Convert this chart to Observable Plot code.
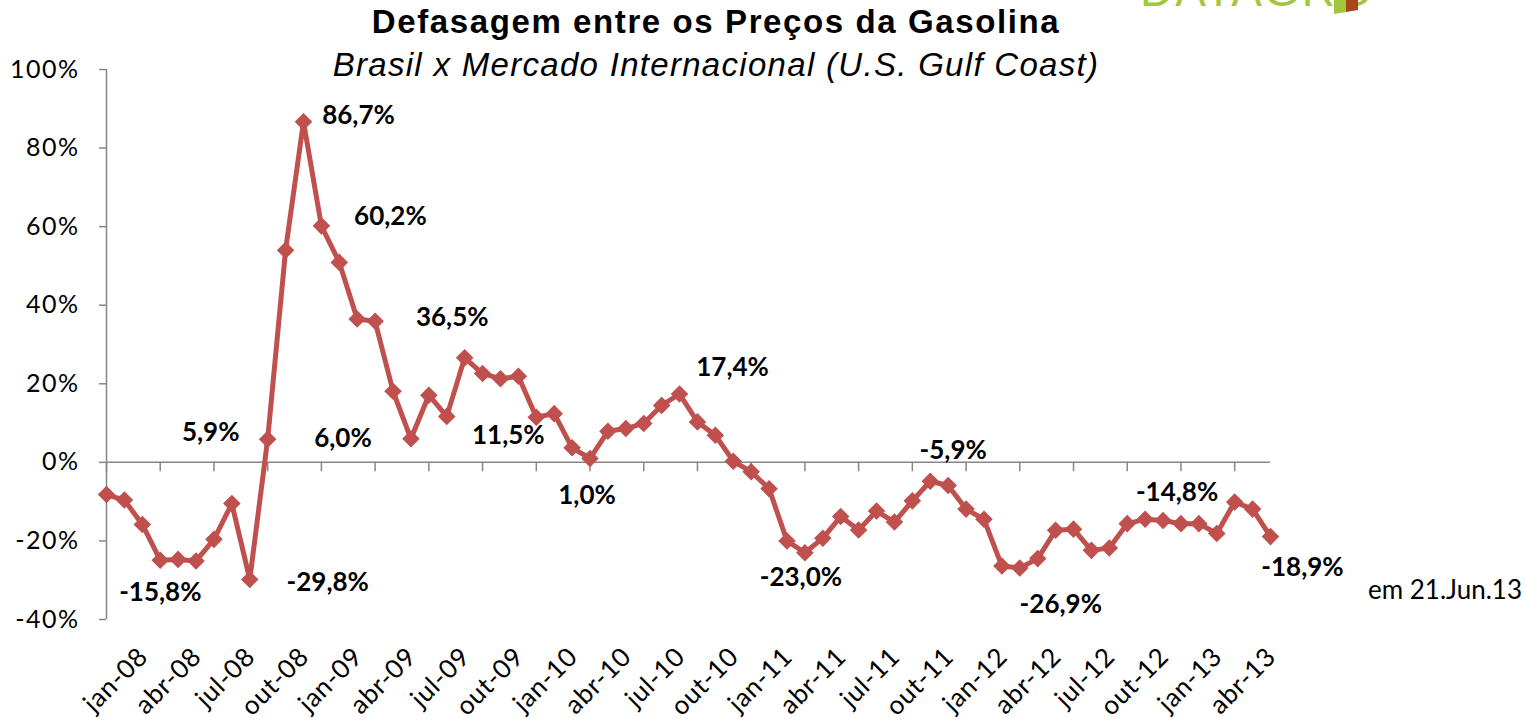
<!DOCTYPE html>
<html>
<head>
<meta charset="utf-8">
<script src="https://cdn.jsdelivr.net/npm/d3@7"></script>
<script src="https://cdn.jsdelivr.net/npm/@observablehq/plot@0.6"></script>
<style>
  body { margin: 0; background: #fff; }
  #wrap { position: relative; width: 1526px; height: 725px; overflow: hidden; background: #fff; }
  #chart { position: absolute; left: 0; top: 0; }
  .ttl { position: absolute; left: 0; width: 1432px; text-align: center; white-space: nowrap; color: #000;
         font-family: "Liberation Sans", Arial, sans-serif; line-height: 1; }
  #title { top: 5px; font-size: 33px; font-weight: bold; letter-spacing: 1.6px; }
  #subtitle { top: 48px; font-size: 33px; font-style: italic; letter-spacing: 1.3px; }
  #note { position: absolute; left: 1368px; top: 576px; font-family: Lato, sans-serif; font-size: 26px; line-height: 1; color: #000; white-space: nowrap; }
  #logo { position: absolute; left: 1140px; top: -33px; font-family: "Liberation Sans", sans-serif; font-size: 46px; line-height: 1;
          color: #a3c63d; letter-spacing: 2px; white-space: nowrap; }
  #cube { position: absolute; left: 1334px; top: -12px; width: 24px; height: 24px;
          background: linear-gradient(90deg, #a3c63d 0 50%, #a8461c 50% 100%); transform: skewY(-10deg); }
  #chart g[aria-label="y-axis tick label"] text { letter-spacing: 1.5px; }
  #chart g[aria-label="x-axis tick label"] text { letter-spacing: 0.8px; }
</style>
</head>
<body>
<div id="wrap">
  <div id="chart"></div>
  <div id="title" class="ttl">Defasagem entre os Preços da Gasolina</div>
  <div id="subtitle" class="ttl">Brasil x Mercado Internacional (U.S. Gulf Coast)</div>
  <div id="note">em 21.Jun.13</div>
  <div id="logo">DATAGRO</div>
  <div id="cube"></div>
</div>
<script>
// ---- data ----
const months = [
  "jan-08","fev-08","mar-08","abr-08","mai-08","jun-08","jul-08","ago-08","set-08","out-08","nov-08","dez-08",
  "jan-09","fev-09","mar-09","abr-09","mai-09","jun-09","jul-09","ago-09","set-09","out-09","nov-09","dez-09",
  "jan-10","fev-10","mar-10","abr-10","mai-10","jun-10","jul-10","ago-10","set-10","out-10","nov-10","dez-10",
  "jan-11","fev-11","mar-11","abr-11","mai-11","jun-11","jul-11","ago-11","set-11","out-11","nov-11","dez-11",
  "jan-12","fev-12","mar-12","abr-12","mai-12","jun-12","jul-12","ago-12","set-12","out-12","nov-12","dez-12",
  "jan-13","fev-13","mar-13","abr-13","mai-13","jun-13"
];
const defasagem = [
  -8.2, -9.6, -15.8, -24.9, -24.7, -25.1, -19.6, -10.5, -29.8, 5.9,
  54.0, 86.7, 60.2, 50.9, 36.5, 35.9, 18.1, 6.0, 17.1, 11.7,
  26.6, 22.6, 21.3, 21.9, 11.5, 12.4, 3.7, 1.0, 7.9, 8.6,
  9.9, 14.5, 17.4, 10.3, 6.9, 0.3, -2.4, -6.7, -20.0, -23.0,
  -19.3, -13.8, -17.2, -12.4, -15.2, -9.8, -4.8, -5.9, -11.9, -14.5,
  -26.4, -26.9, -24.5, -17.3, -17.0, -22.4, -21.8, -15.6, -14.5, -14.8,
  -15.6, -15.6, -18.1, -10.1, -11.9, -18.9
];
const tickLabels = [
  "jan-08","abr-08","jul-08","out-08","jan-09","abr-09","jul-09","out-09","jan-10","abr-10","jul-10",
  "out-10","jan-11","abr-11","jul-11","out-11","jan-12","abr-12","jul-12","out-12","jan-13","abr-13"
];
const yTicks = [-40, -20, 0, 20, 40, 60, 80, 100];
const labeledMonths = ["mar-08","set-08","out-08","dez-08","jan-09","mar-09","jun-09","jan-10","abr-10","set-10",
  "abr-11","dez-11","abr-12","dez-12","jun-13"];

// ---- styling / placement (not data) ----
const labelOffsets = [
  [18, 68], [78, 3], [-57, -7], [55, -6], [69, -9], [95, -1], [-68, 0], [-28, 18], [-3, 37], [53, -26],
  [-4, 25], [5, -35], [41, 37], [14, -28], [32, 31]
];
const RED = "#C0504D", GRAY = "#868686";
const FONT = "Lato, 'Open Sans', sans-serif";

const data = months.map((m, i) => ({month: m, value: defasagem[i]}));
const fmt = v => v.toFixed(1).replace(".", ",") + "%";

const diamond = {
  draw(context, size) {
    const h = Math.sqrt(size / 2);
    context.moveTo(0, -h); context.lineTo(h, 0); context.lineTo(0, h); context.lineTo(-h, 0); context.closePath();
  }
};

const labelMarks = labeledMonths.map((m, k) =>
  Plot.text(data.filter(d => d.month === m), {
    x: "month", y: "value", text: d => fmt(d.value),
    dx: labelOffsets[k][0], dy: labelOffsets[k][1],
    fontSize: 26, fontWeight: "bold", fontFamily: FONT, fill: "#000"
  })
);

const chart = Plot.plot({
  width: 1526, height: 725,
  marginLeft: 106, marginRight: 256, marginTop: 69, marginBottom: 106,
  style: {background: "#fff", fontFamily: FONT},
  x: {type: "point", domain: months, padding: 0},
  y: {domain: [-40, 100]},
  marks: [
    Plot.axisY({ticks: yTicks, tickFormat: d => d + "%", tickSize: 7, tickPadding: 20, fontSize: 25,
      stroke: GRAY, strokeWidth: 1.5, fill: "#000", fontFamily: FONT, label: null}),
    Plot.axisX({ticks: tickLabels, tickSize: 0, tickRotate: -45, fontSize: 26, fill: "#000",
      fontFamily: FONT, label: null, dx: 37, dy: 21}),
    Plot.ruleX([months[0]], {stroke: GRAY, strokeWidth: 1.5}),
    Plot.ruleY([0], {stroke: GRAY, strokeWidth: 1.5}),
    Plot.ruleX(tickLabels, {x: d => d, y1: 0, y2: -2.4, stroke: GRAY, strokeWidth: 1.5}),
    Plot.line(data, {x: "month", y: "value", stroke: RED, strokeWidth: 5, strokeLinejoin: "miter"}),
    Plot.dot(data, {x: "month", y: "value", symbol: diamond, r: 7, fill: RED, stroke: "none"}),
    ...labelMarks
  ]
});
document.getElementById("chart").appendChild(chart);
</script>
</body>
</html>
